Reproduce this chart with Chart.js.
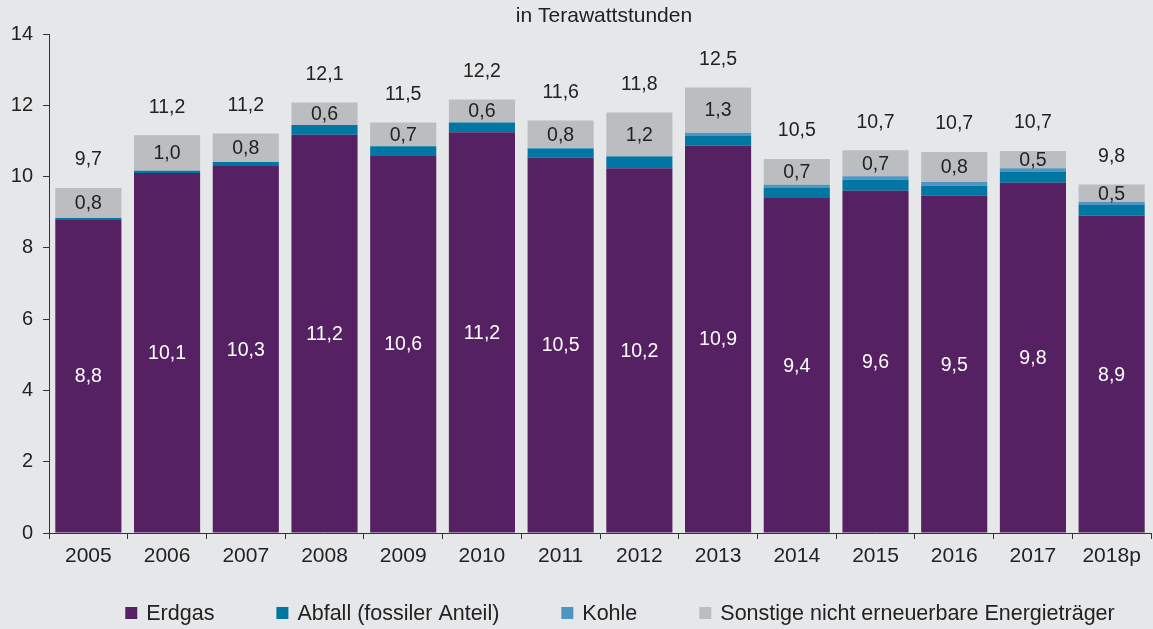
<!DOCTYPE html>
<html>
<head>
<meta charset="utf-8">
<script src="https://cdn.jsdelivr.net/npm/chart.js@4"></script>
<style>
  html, body { margin: 0; padding: 0; background: #e6e7e9; }
  #wrap { width: 1153px; height: 629px; }
</style>
</head>
<body>
<div id="wrap"><canvas id="chart" width="1153" height="629"></canvas></div>
<script>
/* DATA */
const years = ["2005", "2006", "2007", "2008", "2009", "2010", "2011", "2012", "2013", "2014", "2015", "2016", "2017", "2018p"];
const erdgas = [8.8, 10.1, 10.3, 11.17, 10.6, 11.24, 10.53, 10.23, 10.87, 9.4, 9.6, 9.46, 9.83, 8.9];
const abfall = [0.04, 0.06, 0.11, 0.28, 0.25, 0.28, 0.25, 0.33, 0.27, 0.29, 0.31, 0.28, 0.31, 0.3];
const kohle = [0, 0, 0, 0, 0, 0, 0.02, 0.02, 0.09, 0.08, 0.1, 0.11, 0.09, 0.09];
const sonstige = [0.84, 1.0, 0.8, 0.63, 0.67, 0.64, 0.77, 1.22, 1.27, 0.72, 0.73, 0.84, 0.49, 0.49];
const yTicks = [0, 2, 4, 6, 8, 10, 12, 14];

const FONT = 'Arial, "Liberation Sans", sans-serif';
const TEXT = "#222";
const fmt = v => v.toFixed(1).replace(".", ",");

/* LABELS, TITLE, LEGEND */
const extras = {
  id: "extras",
  beforeDraw(c) {
    const ctx = c.ctx;
    ctx.save();
    ctx.fillStyle = "#e6e7e9";
    ctx.fillRect(0, 0, c.width, c.height);
    ctx.restore();
  },
  afterDatasetsDraw(c) {
    const ctx = c.ctx;
    ctx.save();
    ctx.textAlign = "center";
    ctx.textBaseline = "middle";
    ctx.font = "19.5px " + FONT;

    // values inside Erdgas and Sonstige
    [[0, "#fff"], [3, TEXT]].forEach(([di, col]) => {
      const ds = c.data.datasets[di];
      c.getDatasetMeta(di).data.forEach((el, i) => {
        ctx.fillStyle = col;
        ctx.fillText(fmt(ds.data[i]), el.x, (el.y + el.base) / 2 + 1);
      });
    });

    // totals above the bars
    const top = c.getDatasetMeta(3).data;
    ctx.fillStyle = TEXT;
    years.forEach((y, i) => {
      const sum = erdgas[i] + abfall[i] + kohle[i] + sonstige[i];
      ctx.fillText(fmt(sum), top[i].x, top[i].y - 28);
    });

    // title
    ctx.font = "21px " + FONT;
    ctx.fillText("in Terawattstunden", 604, 16);

    // legend
    ctx.font = "21.5px " + FONT;
    ctx.textAlign = "left";
    const box = 12, gapText = 9, gapItem = 62;
    const items = c.data.datasets.map(d => ({ text: d.label, color: d.backgroundColor, w: ctx.measureText(d.label).width }));
    const total = items.reduce((s, it) => s + box + gapText + it.w, 0) + gapItem * (items.length - 1);
    let x = 620 - total / 2;
    const ly = 613;
    items.forEach(it => {
      ctx.fillStyle = it.color;
      ctx.fillRect(x, ly - box / 2, box, box);
      ctx.fillStyle = TEXT;
      ctx.fillText(it.text, x + box + gapText, ly + 1);
      x += box + gapText + it.w + gapItem;
    });
    ctx.restore();
  }
};

const ctx = document.getElementById("chart").getContext("2d");

const chart = new Chart(ctx, {
  type: "bar",
  data: {
    labels: years,
    datasets: [
      { label: "Erdgas", data: erdgas, backgroundColor: "#562163" },
      { label: "Abfall (fossiler Anteil)", data: abfall, backgroundColor: "#0076a3" },
      { label: "Kohle", data: kohle, backgroundColor: "#4e96c1" },
      { label: "Sonstige nicht erneuerbare Energieträger", data: sonstige, backgroundColor: "#bcbdc0" }
    ]
  },
  options: {
    responsive: false,
    animation: false,
    layout: { padding: { left: 0, top: 34, right: 2, bottom: 56 } },
    datasets: {
      bar: { categoryPercentage: 1, barPercentage: 0.84, borderWidth: 0 }
    },
    plugins: {
      legend: { display: false },
      title: { display: false },
      tooltip: { enabled: false }
    },
    scales: {
      x: {
        stacked: true,
        grid: { offset: true, drawOnChartArea: false, tickLength: 6, color: "#333" },
        border: { color: "#333", width: 1 },
        ticks: { color: TEXT, font: { family: FONT, size: 21 }, padding: 5, maxRotation: 0 },
        afterFit: s => { s.height = 40; }
      },
      y: {
        stacked: true,
        min: 0,
        max: 14,
        afterBuildTicks: s => { s.ticks = yTicks.map(v => ({ value: v })); },
        grid: { drawOnChartArea: false, tickLength: 6, color: "#333" },
        border: { color: "#333", width: 1 },
        ticks: { color: TEXT, font: { family: FONT, size: 20 }, padding: 10 },
        afterFit: s => { s.width = 49; }
      }
    }
  },
  plugins: [extras]
});
</script>
</body>
</html>
